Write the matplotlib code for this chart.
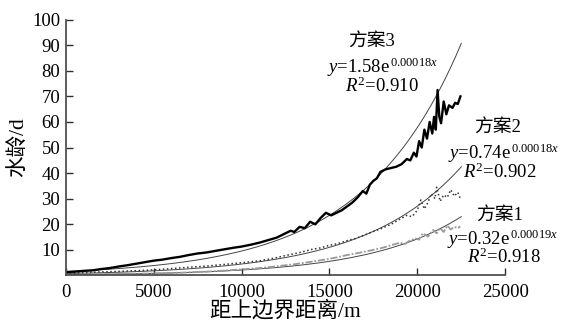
import numpy as np
import matplotlib
matplotlib.use('Agg')
import matplotlib.pyplot as plt

plt.rcParams['font.family'] = ['Liberation Serif', 'Noto Sans CJK SC']
plt.rcParams['mathtext.fontset'] = 'custom'
plt.rcParams['mathtext.rm'] = 'Liberation Serif'
plt.rcParams['mathtext.it'] = 'Liberation Serif:italic'

# 方案3 数据 (距离 m, 水龄 d)
x3 = [0, 500, 1000, 1500, 2000, 2500, 3000, 3500, 4000, 4500, 5000, 5500, 6000, 6500,
      7000, 7500, 8000, 8500, 9000, 9500, 10000, 10500, 11000, 11500, 12000, 12500,
      12800, 13000, 13300, 13600, 13900, 14200, 14500, 14800, 15100, 15400, 15700,
      16000, 16300, 16600, 16900, 17100, 17300, 17500, 17700, 17900, 18200, 18500,
      18800, 19100, 19400, 19600, 19800, 19950, 20100, 20250, 20400, 20550, 20700,
      20850, 20950, 21050, 21150, 21250, 21350, 21500, 21650, 21800, 22000, 22150,
      22300, 22450]
y3 = [1.3, 1.5, 1.8, 2.0, 2.5, 2.9, 3.5, 4.0, 4.6, 5.2, 5.8, 6.2, 6.8, 7.3,
      8.0, 8.6, 9.0, 9.6, 10.2, 10.8, 11.3, 12.0, 12.8, 13.8, 14.8, 16.5,
      17.5, 17.0, 19.0, 18.5, 21.0, 20.0, 22.5, 24.5, 23.5, 24.5, 25.5,
      27.0, 28.5, 30.5, 33.0, 32.0, 35.5, 37.0, 38.0, 40.5, 41.5, 42.0,
      42.5, 43.5, 45.5, 45.0, 48.0, 46.5, 52.5, 50.0, 57.0, 53.5, 60.0,
      55.5, 62.0, 57.0, 72.5, 62.0, 59.5, 68.0, 63.0, 66.5, 65.5, 67.5,
      67.0, 70.0]

# 方案2 数据
x2 = [0, 1000, 2000, 3000, 4000, 5000, 6000, 7000, 8000, 9000, 10000, 11000, 11500,
      12000, 12500, 13000, 13500, 14000, 14500, 15000, 15500, 16000, 16500, 17000,
      17500, 18000, 18500, 19000, 19400, 19700, 20000, 20200, 20400, 20600, 20800,
      21000, 21100, 21300, 21500, 21700, 21900, 22100, 22300, 22450]
y2 = [0.9, 1.1, 1.4, 1.6, 1.9, 2.2, 2.7, 3.2, 3.7, 4.3, 5.0, 5.7, 6.3,
      7.0, 7.8, 8.5, 9.3, 10.2, 10.8, 11.8, 12.5, 13.6, 14.5, 15.8,
      17.2, 18.5, 20.0, 22.0, 23.5, 23.0, 25.5, 29.5, 26.0, 28.5, 32.0,
      30.0, 34.5, 29.0, 31.5, 30.5, 33.5, 31.0, 32.5, 30.0]

# 方案1 数据
x1 = [0, 1000, 2000, 3000, 4000, 5000, 6000, 7000, 8000, 9000, 10000, 11000, 12000,
      13000, 14000, 15000, 15500, 16000, 16500, 17000, 17500, 18000, 18500, 19000,
      19300, 19600, 19900, 20100, 20300, 20600, 20900, 21100, 21300, 21500, 21700,
      21900, 22100, 22300, 22450]
y1 = [0.4, 0.45, 0.5, 0.6, 0.7, 0.8, 1.0, 1.2, 1.5, 1.9, 2.4, 2.9, 3.6,
      4.4, 5.4, 6.5, 7.2, 8.0, 8.6, 9.3, 10.0, 10.8, 11.8, 12.8,
      12.3, 13.8, 14.5, 14.0, 16.5, 15.2, 17.8, 16.5, 18.5, 17.0, 19.5,
      18.0, 19.0, 18.5, 19.2]

# 拟合系数 y = a*exp(b*x)
fit_a = [0.32, 0.74, 1.58]
fit_b = [0.00019, 0.00018, 0.00018]
fit_r2 = ['0.918', '0.902', '0.910']
names = ['方案1', '方案2', '方案3']

W, H = 562, 327
fig = plt.figure(figsize=(5.62, 3.27), dpi=100)
ax = fig.add_axes([0.117, 0.1575, 0.782, 0.7825])

xf = np.linspace(0, 22500, 300)
for a, b in zip(fit_a, fit_b):
    ax.plot(xf, a * np.exp(b * xf), color='#444444', lw=0.7)

ax.plot(x1, y1, color='#9a9a9a', lw=1.3, ls=(0, (4, 1, 1, 1)))
ax.plot(x2, y2, color='#333333', lw=1.1, ls=':')
ax.plot(x3, y3, color='black', lw=1.7)

# 标注位置 (像素)
name_pos = [(500, 215), (498, 127), (372, 41)]
eq_pos = [(447, 244), (448, 158), (327, 72)]
r2_pos = [(467, 263), (463, 178), (345, 92)]
fs = 13.5
for i in range(3):
    fig.text(name_pos[i][0] / W, 1 - name_pos[i][1] / H, names[i],
             ha='center', va='center', fontsize=fs)
    base = fig.text(eq_pos[i][0] / W, 1 - eq_pos[i][1] / H,
                    r'$\mathit{y}$=' + f'{fit_a[i]:.2f}' + 'e',
                    ha='left', va='baseline', fontsize=fs)
    ax.annotate(f'{fit_b[i]:.5f}' + r'$\mathit{x}$', xy=(1, 0), xycoords=base,
                xytext=(0, 8.5), textcoords='offset points',
                ha='left', va='baseline', fontsize=9)
    fig.text(r2_pos[i][0] / W, 1 - r2_pos[i][1] / H, r'$\mathit{R}^2$=' + fit_r2[i],
             ha='left', va='baseline', fontsize=fs)

ax.set_xlim(0, 25000)
ax.set_ylim(0, 100)
ax.set_xticks([0, 5000, 10000, 15000, 20000, 25000])
ax.set_yticks(range(10, 101, 10))
for s in ['top', 'right']:
    ax.spines[s].set_visible(False)
for s in ['left', 'bottom']:
    ax.spines[s].set_color('#505050')
    ax.spines[s].set_linewidth(1.3)
ax.tick_params(direction='in', length=5, width=1, color='#303030',
               labelsize=13.5, pad=4)
ax.tick_params(axis='x', pad=6)
ax.set_xlabel('距上边界距离/m', fontsize=15.5, labelpad=0)
ax.set_ylabel('水龄/d', fontsize=15.5, labelpad=2)

fig.savefig('out.png', dpi=100)
